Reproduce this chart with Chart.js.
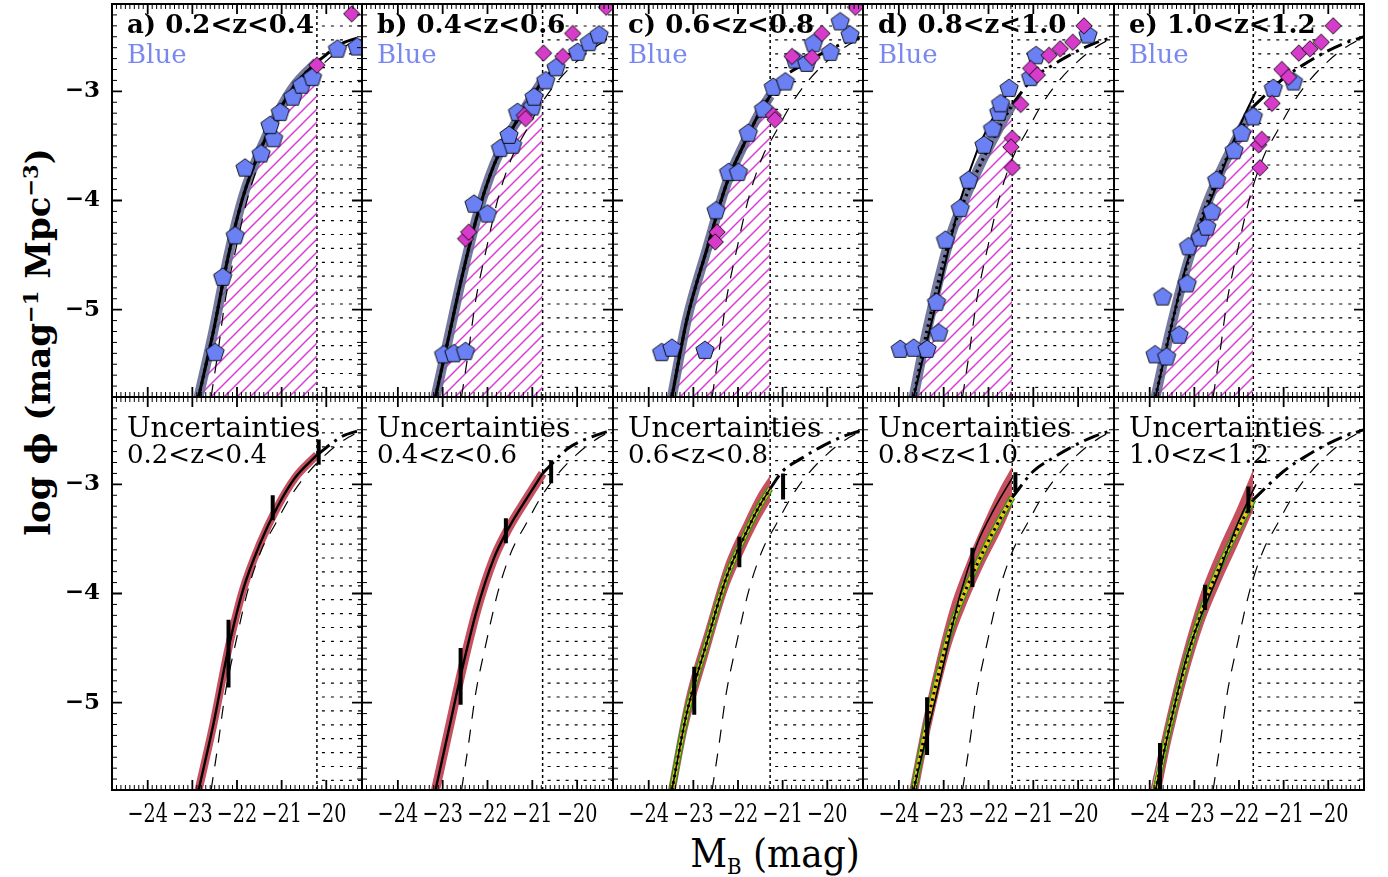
<!DOCTYPE html>
<html>
<head>
<meta charset="utf-8">
<script src="https://cdn.jsdelivr.net/npm/chart.js@4/dist/chart.umd.min.js"></script>
<style>
html, body { margin: 0; padding: 0; background: #fff; }
#wrap { position: relative; width: 1388px; height: 877px; overflow: hidden; background: #fff; }
#wrap canvas { position: absolute; }
.ytitle { position: absolute; left: 38px; top: 342px; transform: translate(-50%, -50%) rotate(-90deg);
  white-space: nowrap; font: bold 34px "DejaVu Serif", "Liberation Serif", serif; color: #000; }
.ytitle sup { font-size: 62%; vertical-align: 0.55em; line-height: 0; }
.xtitle { position: absolute; left: 775px; top: 853px; transform: translate(-50%, -50%);
  white-space: nowrap; font: 40px "DejaVu Serif Condensed", "DejaVu Serif", serif; color: #000; }
.xtitle sub { font-size: 55%; vertical-align: -0.3em; line-height: 0; }
</style>
</head>
<body>
<div id="wrap">
  <div class="ytitle">log ϕ (mag<sup>−1</sup> Mpc<sup>−3</sup>)</div>
  <div class="xtitle">M<sub>B</sub> (mag)</div>
</div>
<script>
// ---- redshift bins, limits and ticks ----
const panelLetters = ['a', 'b', 'c', 'd', 'e'];
const zBins = ['0.2<z<0.4', '0.4<z<0.6', '0.6<z<0.8', '0.8<z<1.0', '1.0<z<1.2'];
const magLimits = [-20.21, -20.77, -21.28, -21.47, -21.68];
const xTickValues = [-24, -23, -22, -21, -20];
const yTickValues = [-5, -4, -3];

// local reference luminosity function (thin dashed curve), [M_B, log phi]
const localLF = [[-22.58, -5.8], [-22.42, -5.37], [-22.27, -4.93], [-22.05, -4.49], [-21.75, -3.96],
  [-21.45, -3.6], [-21.15, -3.37], [-20.78, -3.1], [-20.4, -2.89], [-20.02, -2.73], [-19.66, -2.61], [-19.2, -2.5]];

// best-fit luminosity functions down to the completeness limit
const fitA = [[-22.86, -5.8], [-22.53, -5.2], [-22.19, -4.5], [-21.86, -3.96], [-21.48, -3.54], [-21.1, -3.21], [-20.7, -2.94], [-20.21, -2.73]];
const fitB = [[-23.16, -5.8], [-22.87, -5.26], [-22.57, -4.7], [-22.23, -4.14], [-21.86, -3.68], [-21.5, -3.38], [-21.11, -3.12], [-20.77, -2.9]];
const fitC = [[-23.48, -5.8], [-23.15, -5.1], [-22.7, -4.45], [-22.25, -3.84], [-21.85, -3.47], [-21.55, -3.22], [-21.28, -3.04]];
const fitD = [[-23.67, -5.8], [-23.37, -5.19], [-22.85, -4.33], [-22.47, -3.93], [-22.1, -3.6], [-21.73, -3.31], [-21.47, -3.12]];
const fitE = [[-23.87, -5.8], [-23.54, -5.19], [-23.17, -4.6], [-22.8, -4.12], [-22.42, -3.74], [-22.05, -3.43], [-21.68, -3.14]];
// alternative fits (thin solid) where they depart from the main one
const altD = [[-23.67, -5.8], [-23.15, -4.91], [-22.62, -3.99], [-22.25, -3.54], [-21.88, -3.23], [-21.47, -2.94]];
const altE = [[-23.87, -5.8], [-23.17, -4.58], [-22.42, -3.78], [-22.05, -3.38], [-21.75, -3.11], [-21.62, -3.0]];
// bright-end extrapolation beyond the limit (dash-dot)
const brightTail = [[-21.0, -2.88], [-20.57, -2.76], [-20.2, -2.67], [-19.64, -2.56], [-19.2, -2.5]];

// full uncertainty envelopes (upper / lower edges) for the three high-z bins
const envUpC = [[-23.55, -5.8], [-23.15, -4.95], [-22.7, -4.31], [-22.25, -3.71], [-21.85, -3.35], [-21.55, -3.1], [-21.28, -2.93]];
const envLowC = [[-23.41, -5.8], [-23.15, -5.25], [-22.7, -4.59], [-22.25, -3.97], [-21.85, -3.59], [-21.55, -3.34], [-21.28, -3.15]];
const envUpD = [[-23.75, -5.8], [-23.37, -5.02], [-22.85, -4.15], [-22.47, -3.72], [-22.1, -3.36], [-21.73, -3.04], [-21.47, -2.85]];
const envLowD = [[-23.58, -5.8], [-23.37, -5.36], [-22.85, -4.48], [-22.47, -4.06], [-22.1, -3.72], [-21.73, -3.42], [-21.47, -3.18]];
const envUpE = [[-23.97, -5.8], [-23.54, -5.02], [-23.17, -4.44], [-22.8, -3.95], [-22.42, -3.57], [-22.05, -3.24], [-21.68, -2.88]];
const envLowE = [[-23.76, -5.8], [-23.54, -5.36], [-23.17, -4.76], [-22.8, -4.27], [-22.42, -3.89], [-22.05, -3.56], [-21.68, -3.22]];

// blue galaxies (pentagons)
const blueA = [[-22.49, -5.39], [-22.32, -4.70], [-22.04, -4.32], [-21.82, -3.70], [-21.46, -3.57], [-21.18, -3.43], [-21.26, -3.31],
  [-21.03, -3.19], [-20.75, -3.05], [-20.55, -2.94], [-20.31, -2.87], [-19.75, -2.61], [-19.31, -2.59]];
const blueB = [[-22.98, -5.41], [-22.75, -5.40], [-22.49, -5.38], [-22.30, -4.03], [-22.0, -4.12], [-21.71, -3.52], [-21.44, -3.49],
  [-21.52, -3.40], [-21.33, -3.19], [-21.0, -3.14], [-20.96, -3.05], [-20.7, -2.9], [-20.47, -2.78], [-19.99, -2.64], [-19.73, -2.55], [-19.51, -2.48]];
const blueC = [[-23.71, -5.39], [-23.48, -5.35], [-22.74, -5.37], [-22.49, -4.09], [-22.21, -3.74], [-21.99, -3.74], [-21.77, -3.38],
  [-21.43, -3.16], [-21.21, -2.96], [-20.94, -2.91], [-20.72, -2.71], [-20.46, -2.74], [-20.31, -2.56], [-19.93, -2.64], [-19.71, -2.36], [-19.49, -2.48]];
const blueD = [[-23.97, -5.36], [-23.67, -5.35], [-23.37, -5.36], [-23.11, -5.21], [-23.16, -4.93], [-22.96, -4.36], [-22.63, -4.07],
  [-22.44, -3.81], [-22.10, -3.49], [-21.91, -3.34], [-21.77, -3.19], [-21.73, -3.11], [-21.54, -2.97], [-21.06, -2.87], [-20.94, -2.67], [-19.78, -2.48]];
const blueE = [[-23.88, -5.41], [-23.62, -5.43], [-23.71, -4.88], [-23.34, -5.23], [-23.16, -4.76], [-23.13, -4.42], [-22.87, -4.34],
  [-22.72, -4.24], [-22.61, -4.10], [-22.50, -3.81], [-22.11, -3.54], [-21.94, -3.38], [-21.68, -3.23], [-21.23, -2.97], [-20.78, -2.91]];

// comparison sample (magenta diamonds)
const magA = [[-20.21, -2.76], [-19.43, -2.29]];
const magB = [[-22.49, -4.35], [-22.42, -4.29], [-21.18, -3.22], [-21.15, -3.25], [-20.75, -2.65], [-20.32, -2.68], [-20.1, -2.47], [-19.35, -2.23]];
const magC = [[-22.47, -4.29], [-22.51, -4.38], [-21.21, -3.22], [-21.17, -3.26], [-20.79, -2.68], [-20.34, -2.69], [-20.12, -2.47], [-19.37, -2.23]];
const magD = [[-21.28, -3.12], [-21.47, -3.43], [-21.50, -3.51], [-21.47, -3.70], [-21.06, -2.79], [-20.91, -2.85], [-20.65, -2.67],
  [-20.4, -2.61], [-20.12, -2.55], [-19.87, -2.40]];
const magE = [[-21.53, -3.70], [-21.56, -3.49], [-21.49, -3.44], [-21.26, -3.11], [-21.04, -2.80], [-20.89, -2.87], [-20.66, -2.65],
  [-20.41, -2.61], [-20.16, -2.55], [-19.89, -2.40]];

// uncertainty bars: [M_B, low, high]
const errA = [[-22.19, -4.24, -4.86], [-21.2, -3.10, -3.33], [-20.17, -2.59, -2.82]];
const errB = [[-22.6, -4.50, -5.02], [-21.59, -3.31, -3.54], [-20.58, -2.78, -2.99]];
const errC = [[-22.98, -4.67, -5.11], [-21.97, -3.48, -3.76], [-20.99, -2.90, -3.14]];
const errD = [[-23.37, -4.95, -5.48], [-22.36, -3.58, -3.94], [-21.4, -2.89, -3.07]];
const errE = [[-23.77, -5.37, -5.8], [-22.76, -3.92, -4.15], [-21.79, -3.02, -3.26]];

const fits = [fitA, fitB, fitC, fitD, fitE];
const alts = [fitA, fitB, fitC, altD, altE];
const envUps = [null, null, envUpC, envUpD, envUpE];
const envLows = [null, null, envLowC, envLowD, envLowE];
const blues = [blueA, blueB, blueC, blueD, blueE];
const mags = [magA, magB, magC, magD, magE];
const errs = [errA, errB, errC, errD, errE];

// ---- layout ----
const panelLefts = [112, 362, 613, 863, 1114];
const panelWidths = [250, 251, 250, 251, 250];
const rowTops = [4, 397];
const rowHeight = 393;
const SERIF = '"DejaVu Serif", "Liberation Serif", serif';
const SERIF_COND = '"DejaVu Serif Condensed", "DejaVu Serif", "Liberation Serif", serif';
const RED = '#c6505e';

const pts = arr => arr.map(p => ({ x: p[0], y: p[1] }));
const minus = v => (v < 0 ? '\u2212' : '') + Math.abs(v);

function markerCanvas(kind) {
  const c = document.createElement('canvas');
  const s = 22; c.width = s; c.height = s;
  const g = c.getContext('2d');
  g.beginPath();
  if (kind === 'pentagon') {
    const r = 9.6;
    for (let k = 0; k < 5; k++) {
      const t = -Math.PI / 2 + k * 2 * Math.PI / 5;
      const px = s / 2 + r * Math.cos(t), py = s / 2 + 0.6 + r * Math.sin(t);
      k ? g.lineTo(px, py) : g.moveTo(px, py);
    }
    g.fillStyle = '#6a80f3';
  } else {
    const r = 8.2;
    g.moveTo(s / 2, s / 2 - r); g.lineTo(s / 2 + r, s / 2); g.lineTo(s / 2, s / 2 + r); g.lineTo(s / 2 - r, s / 2);
    g.fillStyle = '#d63bca';
  }
  g.closePath(); g.fill();
  g.strokeStyle = '#000'; g.lineWidth = 0.9; g.stroke();
  return c;
}
const pentagonImg = markerCanvas('pentagon');
const diamondImg = markerCanvas('diamond');

function hatchPattern() {
  const c = document.createElement('canvas');
  const s = 13; c.width = s; c.height = s;
  const g = c.getContext('2d');
  g.strokeStyle = '#dc3cd6'; g.lineWidth = 1.5;
  g.beginPath();
  g.moveTo(-2, s + 2); g.lineTo(s + 2, -2);
  g.moveTo(-2, 2); g.lineTo(2, -2);
  g.moveTo(s - 2, s + 2); g.lineTo(s + 2, s - 2);
  g.stroke();
  return g.createPattern(c, 'repeat');
}
const hatch = hatchPattern();

// frame, inward ticks, tick labels, completeness region and panel labels
const panelDecor = {
  id: 'panelDecor',
  beforeDatasetsDraw(chart, args, o) {
    const { ctx, chartArea: a, scales: { x } } = chart;
    const lx = x.getPixelForValue(o.limit);
    ctx.save();
    ctx.beginPath(); ctx.rect(a.left, a.top, a.width, a.height); ctx.clip();
    ctx.strokeStyle = '#000';
    ctx.lineWidth = 1.2; ctx.setLineDash([3, 6]);
    for (let py = a.top + 22; py < a.bottom - 4; py += 13.9) {
      ctx.beginPath(); ctx.moveTo(lx + 5, py); ctx.lineTo(a.right, py); ctx.stroke();
    }
    ctx.lineWidth = 1.5; ctx.setLineDash([3, 3]);
    ctx.beginPath(); ctx.moveTo(lx, a.top); ctx.lineTo(lx, a.bottom); ctx.stroke();
    ctx.restore();
  },
  afterDatasetsDraw(chart, args, o) {
    const { ctx, chartArea: a, scales: { x, y } } = chart;
    ctx.save();
    ctx.strokeStyle = '#000';
    // x ticks every 0.1 mag, major every 1 mag
    for (let k = -248; k <= -192; k++) {
      const px = x.getPixelForValue(k / 10);
      const major = k % 10 === 0;
      const L = major ? 10 : 5;
      ctx.lineWidth = major ? 1.8 : 1;
      ctx.beginPath();
      ctx.moveTo(px, a.bottom); ctx.lineTo(px, a.bottom - L);
      ctx.moveTo(px, a.top); ctx.lineTo(px, a.top + L);
      ctx.stroke();
    }
    // y ticks every 0.1 dex, major every 1 dex
    for (let k = -58; k <= -22; k++) {
      const py = y.getPixelForValue(k / 10);
      const major = k % 10 === 0;
      const L = major ? 10 : 5;
      ctx.lineWidth = major ? 1.8 : 1;
      ctx.beginPath();
      ctx.moveTo(a.left, py); ctx.lineTo(a.left + L, py);
      ctx.moveTo(a.right, py); ctx.lineTo(a.right - L, py);
      ctx.stroke();
    }
    ctx.lineWidth = 2;
    ctx.strokeRect(a.left, a.top, a.width, a.height);

    ctx.fillStyle = '#000';
    if (o.xLabels) {
      ctx.font = '26px ' + SERIF_COND;
      ctx.textAlign = 'center'; ctx.textBaseline = 'middle';
      xTickValues.forEach(v => {
        ctx.save();
        ctx.translate(x.getPixelForValue(v), a.bottom + 25);
        ctx.scale(0.82, 1);
        ctx.fillText(minus(v), 0, 0);
        ctx.restore();
      });
    }
    if (o.yLabels) {
      ctx.font = 'bold 23px ' + SERIF;
      ctx.textAlign = 'right'; ctx.textBaseline = 'middle';
      yTickValues.forEach(v => ctx.fillText(minus(v), a.left - 12, y.getPixelForValue(v)));
    }

    ctx.textBaseline = 'alphabetic'; ctx.textAlign = 'left';
    if (o.row === 0) {
      ctx.font = 'bold 26px ' + SERIF;
      ctx.fillText(o.title, a.left + 15, a.top + 29);
      ctx.font = '26px ' + SERIF;
      ctx.fillStyle = '#7888f0';
      ctx.fillText('Blue', a.left + 15, a.top + 59);
    } else {
      ctx.font = '28px ' + SERIF;
      ctx.fillText('Uncertainties', a.left + 15, a.top + 40);
      ctx.font = '26px ' + SERIF;
      ctx.fillText(o.zbin, a.left + 15, a.top + 66);
    }
    ctx.restore();
  }
};

function lineSet(data, color, width, dash, order, extra) {
  return Object.assign({
    data: pts(data), showLine: true, borderColor: color, borderWidth: width,
    borderDash: dash || [], pointRadius: 0, fill: false, order: order,
    tension: 0.4, cubicInterpolationMode: 'monotone', borderCapStyle: 'butt', borderJoinStyle: 'round'
  }, extra || {});
}

function tailFor(col) {
  const fit = fits[col];
  const last = fit[fit.length - 1];
  return [last].concat(brightTail.filter(p => p[0] > magLimits[col] + 0.2));
}

function errorBarData(list) {
  const out = [];
  list.forEach(e => { out.push({ x: e[0], y: e[1] }, { x: e[0], y: e[2] }, { x: e[0], y: null }); });
  return out;
}

function topDatasets(col) {
  return [
    { data: pts(mags[col]), showLine: false, pointStyle: diamondImg, pointRadius: 9, order: 0 },
    { data: pts(blues[col]), showLine: false, pointStyle: pentagonImg, pointRadius: 10, order: 1 },
    lineSet(tailFor(col), '#000', 3, [16, 6, 3, 6], 2),
    lineSet(alts[col], '#000', col >= 3 ? 2 : 3, [], 3),
    lineSet(fits[col], '#000', 3.2, [2.5, 4], 4),
    lineSet(localLF, '#000', 1.2, [13, 11], 5),
    lineSet(fits[col], 'rgba(98,104,146,0.88)', 10, [], 6),
    lineSet(fits[col], 'rgba(0,0,0,0)', 0, [], 7, { fill: 'start', backgroundColor: hatch })
  ];
}

function bottomDatasets(col) {
  const sets = [
    { data: errorBarData(errs[col]), showLine: true, borderColor: '#000', borderWidth: 4, pointRadius: 0,
      spanGaps: false, tension: 0, order: 0, borderCapStyle: 'butt' },
    lineSet(tailFor(col), '#000', 3, [16, 6, 3, 6], 1),
    lineSet(alts[col], '#000', col >= 2 ? 1.6 : 2.4, [], 2),
    lineSet(localLF, '#000', 1.2, [13, 11], 7)
  ];
  if (col >= 2) {
    sets.push(lineSet(fits[col], '#000', 3, [2.5, 4], 3));
    sets.push(lineSet(fits[col], '#f3c21c', 4, [], 4));
    sets.push(lineSet(fits[col], '#1f9a1f', 6.5, [], 5));
    // envelope: upper edge filled down to the lower edge (next dataset)
    const upIndex = sets.length;
    sets.push(lineSet(envUps[col], RED, 1.5, [], 8, { fill: { target: upIndex + 1 }, backgroundColor: RED }));
    sets.push(lineSet(envLows[col], RED, 1.5, [], 9));
  } else {
    sets.push(lineSet(fits[col], RED, [8, 9][col], [], 8));
  }
  return sets;
}

const wrap = document.getElementById('wrap');

function makePanel(row, col) {
  const leftCol = col === 0, bottomRow = row === 1;
  const padL = leftCol ? 50 : 4, padR = 4, padT = 4, padB = bottomRow ? 44 : 4;
  const w = padL + panelWidths[col] + padR, h = padT + rowHeight + padB;
  const cv = document.createElement('canvas');
  cv.width = w; cv.height = h;
  cv.style.width = w + 'px'; cv.style.height = h + 'px';
  cv.style.left = (panelLefts[col] - padL) + 'px';
  cv.style.top = (rowTops[row] - padT) + 'px';
  wrap.appendChild(cv);

  new Chart(cv, {
    type: 'scatter',
    data: { datasets: row === 0 ? topDatasets(col) : bottomDatasets(col) },
    options: {
      responsive: false, animation: false, devicePixelRatio: 1,
      layout: { autoPadding: false, padding: { left: padL, right: padR, top: padT, bottom: padB } },
      scales: {
        x: { type: 'linear', min: -24.8, max: -19.2, display: false },
        y: { type: 'linear', min: -5.8, max: -2.2, display: false }
      },
      plugins: {
        legend: { display: false }, tooltip: { enabled: false },
        filler: { propagate: false },
        panelDecor: { row: row, limit: magLimits[col], title: panelLetters[col] + ') ' + zBins[col],
          zbin: zBins[col], xLabels: bottomRow, yLabels: leftCol }
      }
    },
    plugins: [panelDecor]
  });
}

for (let r = 0; r < 2; r++) for (let c = 0; c < 5; c++) makePanel(r, c);
</script>
</body>
</html>
